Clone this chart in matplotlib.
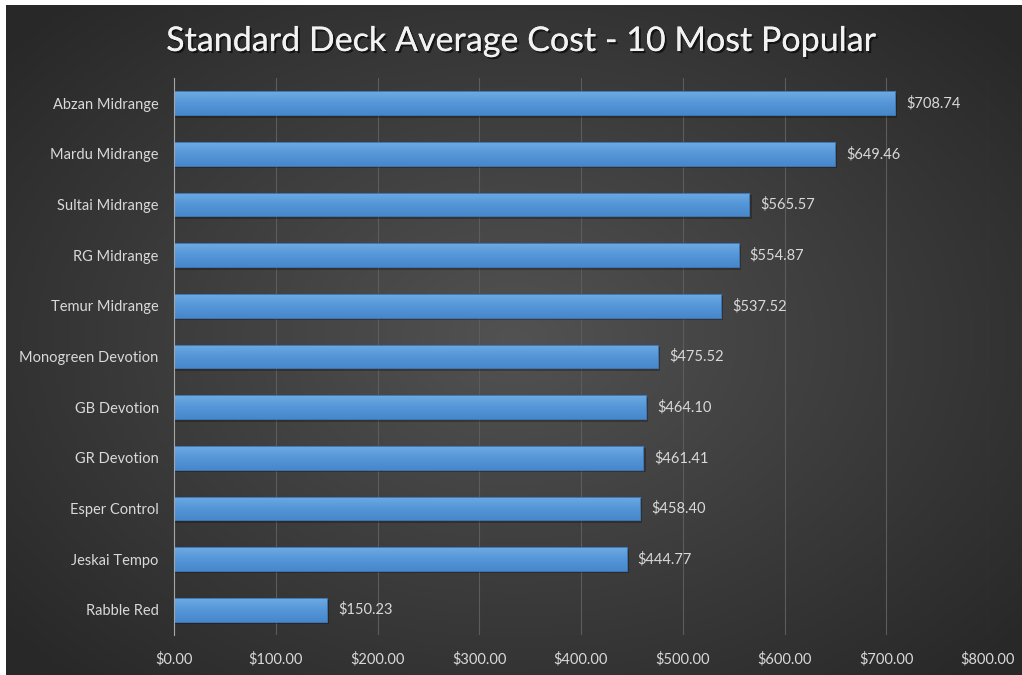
import numpy as np
import matplotlib
matplotlib.use('Agg')
import matplotlib.pyplot as plt
import matplotlib.patheffects as pe
from matplotlib.colors import LinearSegmentedColormap

# data (top to bottom)
decks = ['Abzan Midrange', 'Mardu Midrange', 'Sultai Midrange', 'RG Midrange',
         'Temur Midrange', 'Monogreen Devotion', 'GB Devotion', 'GR Devotion',
         'Esper Control', 'Jeskai Tempo', 'Rabble Red']
cost = [708.74, 649.46, 565.57, 554.87, 537.52, 475.52, 464.10, 461.41,
        458.40, 444.77, 150.23]
ticks = [0, 100, 200, 300, 400, 500, 600, 700, 800]

plt.rcParams['font.family'] = ['Lato', 'DejaVu Sans']

fig = plt.figure(figsize=(10.22, 6.75), dpi=100)
fig.patch.set_facecolor('white')

# dark radial gradient background
bg = fig.add_axes([6 / 1022, 0, 1015 / 1022, 670 / 675])
yy, xx = np.mgrid[-1:1:300j, -1:1:450j]
r = np.sqrt((xx * 0.95) ** 2 + (yy * 0.9) ** 2)
shade = np.clip(1 - r / 1.25, 0, 1)
bg_cmap = LinearSegmentedColormap.from_list('bg', ['#282828', '#525252'])
bg.imshow(shade, cmap=bg_cmap, aspect='auto', extent=[0, 1, 0, 1], vmin=0, vmax=1)
bg.axis('off')

ax = fig.add_axes([174 / 1022, 40 / 675, 814 / 1022, 557 / 675])
ax.patch.set_alpha(0)

y = np.arange(len(decks))
bar_cmap = LinearSegmentedColormap.from_list('bar', ['#6fabe4', '#5596d8', '#4788cc'])
grad = np.linspace(0, 1, 64).reshape(-1, 1)

for i, (name, v) in enumerate(zip(decks, cost)):
    # soft shadow
    ax.barh(i + 0.05, v + 2, height=0.47, color='black', alpha=0.25, zorder=2)
    b = ax.barh(i, v, height=0.47, color='none', edgecolor='#3f77b3', linewidth=0.7, zorder=4)[0]
    im = ax.imshow(grad, cmap=bar_cmap, aspect='auto', zorder=3,
                   extent=[0, v, i + 0.235, i - 0.235])
    im.set_clip_path(b)
    ax.text(v + 11, i, '${:,.2f}'.format(v), va='center', ha='left',
            color='#d9d9d9', fontsize=10.5, zorder=5)

ax.set_xlim(0, 800)
ax.set_ylim(len(decks) - 0.5, -0.5)
ax.set_xticks(ticks)
ax.set_xticklabels(['${:.2f}'.format(t) for t in ticks])
ax.set_yticks(y)
ax.set_yticklabels(decks)
ax.tick_params(axis='both', length=0, colors='#d9d9d9', labelsize=10.5)
ax.tick_params(axis='y', pad=11)
ax.tick_params(axis='x', pad=12)
ax.grid(axis='x', color='#5c5c5c', linewidth=0.8, zorder=0)
ax.set_axisbelow(True)
for s in ['top', 'right', 'bottom']:
    ax.spines[s].set_visible(False)
ax.spines['left'].set_color('#a6a6a6')
ax.spines['left'].set_zorder(6)

title = fig.text(521 / 1022, 1 - 41 / 675, 'Standard Deck Average Cost - 10 Most Popular',
                 ha='center', va='center', color='#f2f2f2', fontsize=24.5)
title.set_path_effects([pe.withSimplePatchShadow(offset=(1.5, -1.5), shadow_rgbFace='black', alpha=0.6),
                        pe.Normal()])

fig.savefig('out.png', dpi=100, facecolor=fig.get_facecolor())
